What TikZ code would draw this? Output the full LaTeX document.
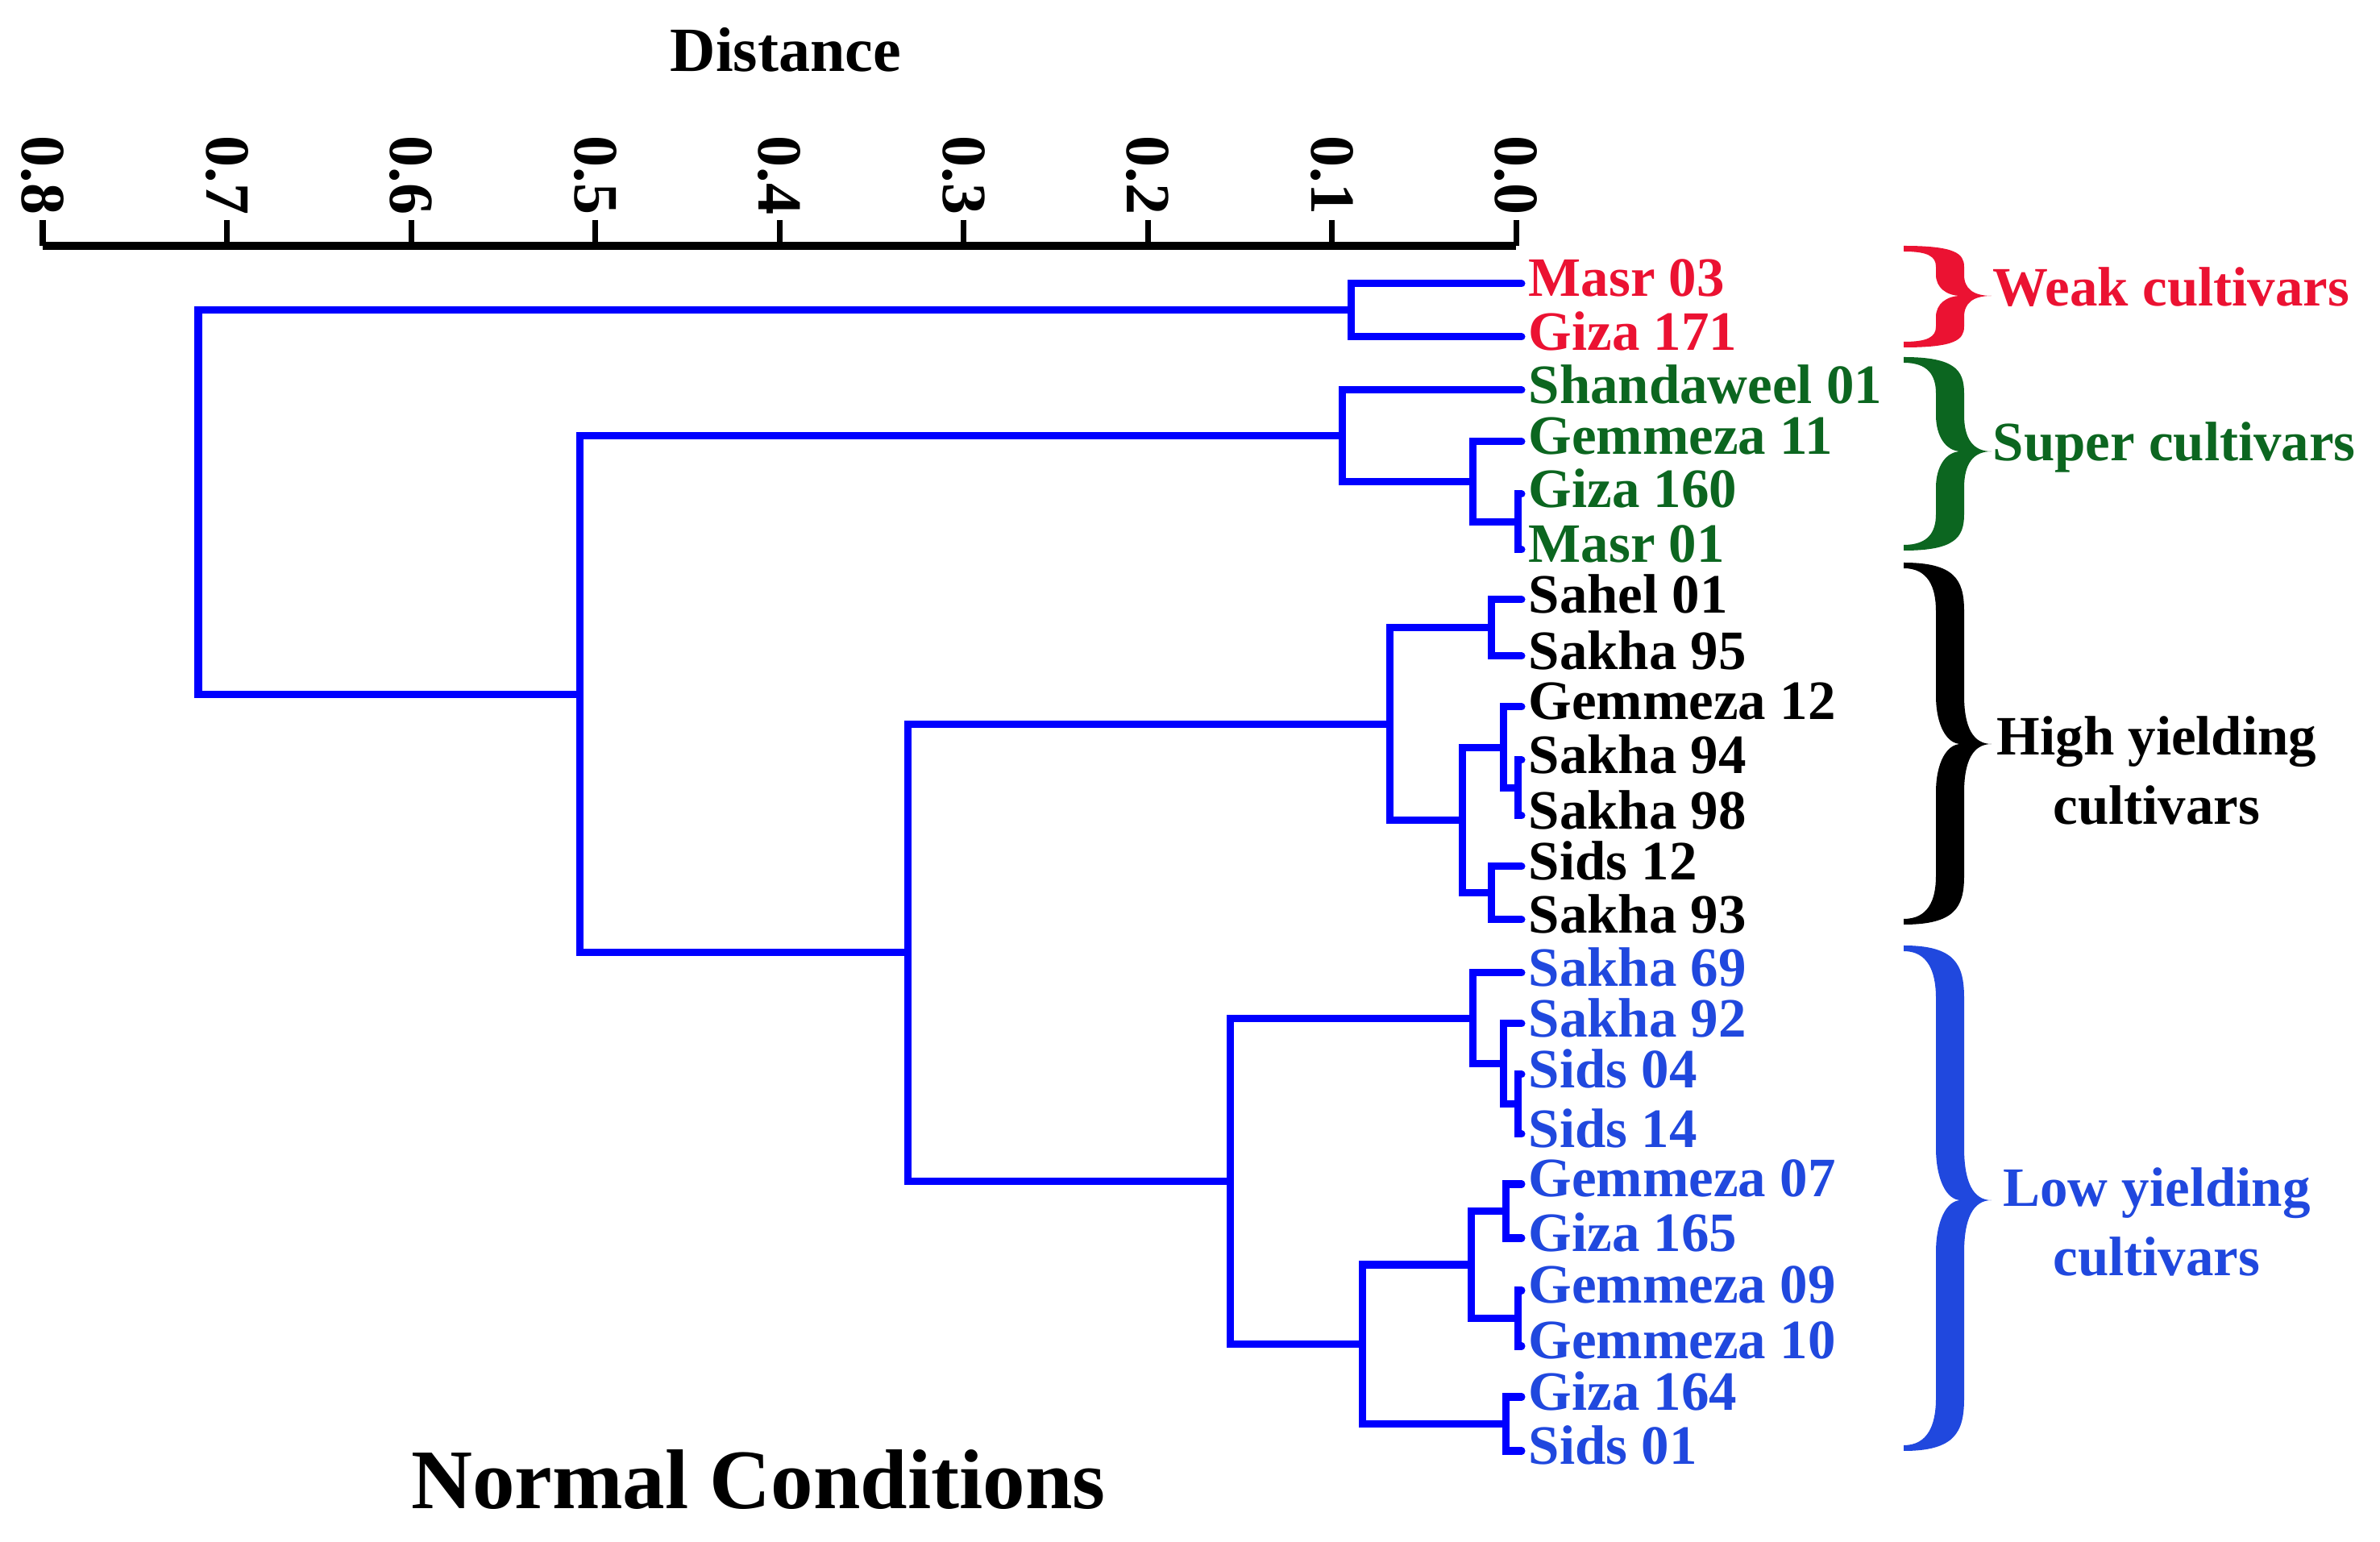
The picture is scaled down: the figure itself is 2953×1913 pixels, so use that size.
\documentclass[tikz,border=0pt]{standalone}
\usepackage{fontspec}
\setmainfont{Liberation Serif}
\definecolor{linkblue}{RGB}{0,0,255}
\definecolor{weakred}{RGB}{235,18,50}
\definecolor{supergreen}{RGB}{12,102,32}
\definecolor{lowblue}{RGB}{32,72,222}
\tikzstyle{link} = [draw=linkblue, line width=0.09cm, line cap=round]
\tikzstyle{axis} = [draw=black, line width=0.1cm]
\tikzstyle{leaf} = [anchor=west, inner xsep=0.08cm, inner ysep=0pt, text depth=4pt,
                    font=\fontsize{19.6}{24}\selectfont\bfseries]
\tikzstyle{group} = [align=center, inner sep=0pt,
                     font=\fontsize{19.6}{24.5}\selectfont\bfseries]
\tikzstyle{axislabel} = [inner sep=0pt, font=\fontsize{22.2}{26}\selectfont\bfseries]
% curly brace: colour, top, tip, bottom, curl
\newcommand{\cbrace}[5]{%
  \fill[#1] (2362,#2)
    .. controls (2425,#2) and (2437,#2+0.35*#5) .. (2437,#2+#5)
    -- (2437,#3-#5)
    .. controls (2437,#3-0.35*#5) and (2448,#3) .. (2471,#3)
    .. controls (2448,#3) and (2437,#3+0.35*#5) .. (2437,#3+#5)
    -- (2437,#4-#5)
    .. controls (2437,#4-0.35*#5) and (2425,#4) .. (2362,#4)
    -- (2362,#4-7)
    .. controls (2392,#4-7) and (2402,#4-0.5*#5) .. (2402,#4-#5)
    -- (2402,#3+#5)
    .. controls (2402,#3+0.4*#5) and (2415,#3) .. (2433,#3)
    .. controls (2415,#3) and (2402,#3-0.4*#5) .. (2402,#3-#5)
    -- (2402,#2+#5)
    .. controls (2402,#2+0.5*#5) and (2392,#2+7) .. (2362,#2+7)
    -- cycle;}

\begin{document}
\begin{tikzpicture}[x=0.01cm, y=-0.01cm]

% background
\fill[white] (0,0) rectangle (2953,1913);
\useasboundingbox (0,0) rectangle (2953,1913);

% distance axis
\node[axislabel] (dist) at (975,62) {Distance};
\draw[axis] (53,305) -- (1881,305);
\foreach \i in {0,...,8} {
  \draw[axis, line width=0.07cm] ({1881-228.5*\i},273) -- ({1881-228.5*\i},305);
  \node[axislabel, rotate=-90, anchor=east] (t\i) at ({1881-228.5*\i},267) {0.\i};
}

% add leaves
\node[leaf, weakred] (masrA) at (1888,352) {Masr 03};
\node[leaf, weakred] (gizaA) at (1888,418) {Giza 171};
\node[leaf, supergreen] (shand) at (1888,484) {Shandaweel 01};
\node[leaf, supergreen] (gemA) at (1888,548) {Gemmeza 11};
\node[leaf, supergreen] (gizaB) at (1888,613) {Giza 160};
\node[leaf, supergreen] (masrB) at (1888,682) {Masr 01};
\node[leaf] (sahel) at (1888,744) {Sahel 01};
\node[leaf] (sakA) at (1888,814) {Sakha 95};
\node[leaf] (gemB) at (1888,877) {Gemmeza 12};
\node[leaf] (sakB) at (1888,943) {Sakha 94};
\node[leaf] (sakC) at (1888,1012) {Sakha 98};
\node[leaf] (sidsA) at (1888,1075) {Sids 12};
\node[leaf] (sakD) at (1888,1141) {Sakha 93};
\node[leaf, lowblue] (sakE) at (1888,1207) {Sakha 69};
\node[leaf, lowblue] (sakF) at (1888,1270) {Sakha 92};
\node[leaf, lowblue] (sidsB) at (1888,1333) {Sids 04};
\node[leaf, lowblue] (sidsC) at (1888,1407) {Sids 14};
\node[leaf, lowblue] (gemC) at (1888,1469) {Gemmeza 07};
\node[leaf, lowblue] (gizaC) at (1888,1536) {Giza 165};
\node[leaf, lowblue] (gemD) at (1888,1601) {Gemmeza 09};
\node[leaf, lowblue] (gemE) at (1888,1670) {Gemmeza 10};
\node[leaf, lowblue] (gizaD) at (1888,1733) {Giza 164};
\node[leaf, lowblue] (sidsD) at (1888,1800) {Sids 01};

% add joins
\coordinate (weak) at (1676,385);
\coordinate (sup1) at (1883,647.5);
\coordinate (sup2) at (1827,597.75);
\coordinate (sup) at (1665,541);
\coordinate (high1) at (1850,779);
\coordinate (high2) at (1883,977.5);
\coordinate (high3) at (1865,927.25);
\coordinate (high4) at (1850,1108);
\coordinate (high5) at (1814,1017.6);
\coordinate (high) at (1724,898.3);
\coordinate (low1) at (1883,1370);
\coordinate (low2) at (1865,1320);
\coordinate (low3) at (1827,1263.5);
\coordinate (low4) at (1868,1502.5);
\coordinate (low5) at (1883,1635.5);
\coordinate (low6) at (1825,1569);
\coordinate (low7) at (1868,1766.5);
\coordinate (low8) at (1690,1667.75);
\coordinate (low) at (1526,1465.6);
\coordinate (hilo) at (1126,1182);
\coordinate (rest) at (719,861.5);
\coordinate (root) at (246,623);

% add connections
\draw[link] (masrA.west) -| (weak) |- (gizaA.west);
\draw[link] (gizaB.west) -| (sup1) |- (masrB.west);
\draw[link] (gemA.west) -| (sup2) |- (sup1);
\draw[link] (shand.west) -| (sup) |- (sup2);
\draw[link] (sahel.west) -| (high1) |- (sakA.west);
\draw[link] (sakB.west) -| (high2) |- (sakC.west);
\draw[link] (gemB.west) -| (high3) |- (high2);
\draw[link] (sidsA.west) -| (high4) |- (sakD.west);
\draw[link] (high3) -| (high5) |- (high4);
\draw[link] (high1) -| (high) |- (high5);
\draw[link] (sidsB.west) -| (low1) |- (sidsC.west);
\draw[link] (sakF.west) -| (low2) |- (low1);
\draw[link] (sakE.west) -| (low3) |- (low2);
\draw[link] (gemC.west) -| (low4) |- (gizaC.west);
\draw[link] (gemD.west) -| (low5) |- (gemE.west);
\draw[link] (low4) -| (low6) |- (low5);
\draw[link] (gizaD.west) -| (low7) |- (sidsD.west);
\draw[link] (low6) -| (low8) |- (low7);
\draw[link] (low3) -| (low) |- (low8);
\draw[link] (high) -| (hilo) |- (low);
\draw[link] (sup) -| (rest) |- (hilo);
\draw[link] (weak) -| (root) |- (rest);

% groups
\cbrace{weakred}{305}{367}{431}{26}
\cbrace{supergreen}{443}{560}{683}{45}
\cbrace{black}{698}{923}{1147}{60}
\cbrace{lowblue}{1173}{1489}{1800}{65}
\node[group, weakred, anchor=base west] (gweak) at (2472,380) {Weak cultivars};
\node[group, supergreen, anchor=base west] (gsup) at (2472,572) {Super cultivars};
\node[group] (ghigh) at (2676,956) {High yielding\\cultivars};
\node[group, lowblue] (glow) at (2676,1516) {Low yielding\\cultivars};

% title
\node[font=\fontsize{29.9}{34}\selectfont\bfseries] (title) at (941,1836) {Normal Conditions};

\end{tikzpicture}
\end{document}
